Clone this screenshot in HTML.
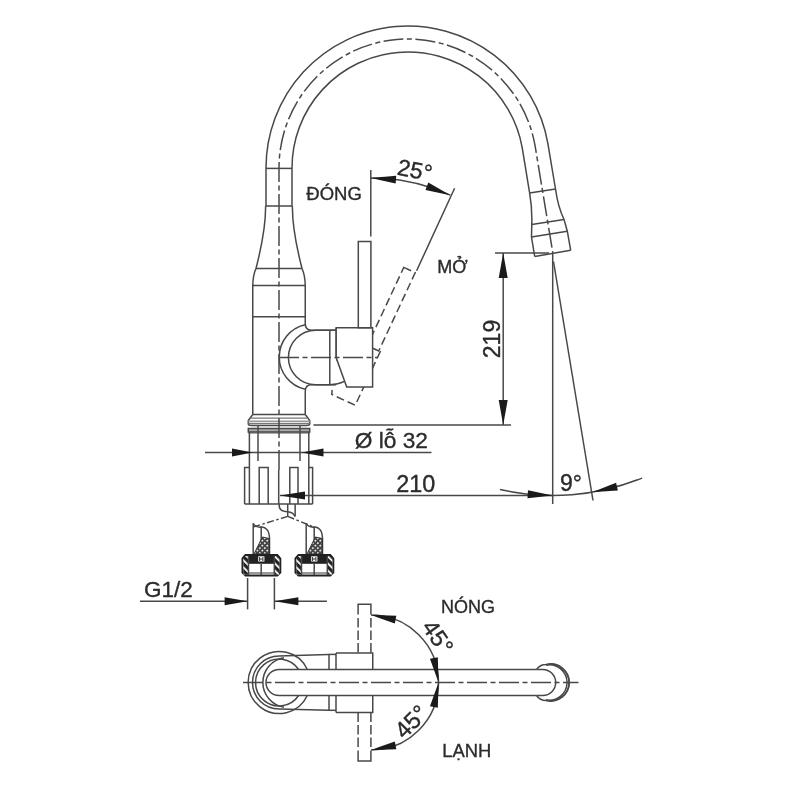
<!DOCTYPE html>
<html><head><meta charset="utf-8"><style>
html,body{margin:0;padding:0;background:#fff;}
svg{display:block;will-change:transform}

.s{fill:none;stroke:#484848;stroke-width:1.5}
.sw{fill:#fff;stroke:#484848;stroke-width:1.5}
.w{fill:#fff;stroke:none}
.sg{fill:none;stroke:#777;stroke-width:1.2}
.sg2{fill:none;stroke:#999;stroke-width:1.8}
.c{fill:none;stroke:#484848;stroke-width:1.5;stroke-dasharray:20 3.5 5 3.5}
.c2{fill:none;stroke:#484848;stroke-width:1.5;stroke-dasharray:7 2.5 2.5 2.5}
.h{fill:none;stroke:#484848;stroke-width:1.5;stroke-dasharray:8 4}
.a{fill:#1a1a1a;stroke:none}
.t{font-family:"Liberation Sans",sans-serif;fill:#2b2b2b;stroke:#2b2b2b;stroke-width:0.35}
</style></head><body>
<svg width="800" height="800" viewBox="0 0 800 800">
<defs>
<pattern id="hatch" width="5" height="5" patternUnits="userSpaceOnUse" patternTransform="rotate(-45)"><rect width="5" height="5" fill="#222"/><rect width="1.8" height="5" fill="#fff"/></pattern>
<pattern id="braid" width="3.5" height="3.5" patternUnits="userSpaceOnUse" patternTransform="rotate(45)"><rect width="3.5" height="3.5" fill="#444"/><rect width="1.6" height="1.6" fill="#fff"/></pattern>
</defs>
<g transform="rotate(25 322.6 357)">
<polygon class="h" points="358.3,241.4 370.9,241.4 370.9,327.8 358.3,327.8"/>
<polygon class="h" points="336.2,327.8 372.6,327.8 372.6,387 346.7,387 336.2,357.8"/>
</g>
<path class="w" d="M305.25,324.75 A33,33 0 0 0 305.25,389.25 Z" />
<polygon class="w" points="305.25,324 336.2,324 336.2,390 305.25,390"/>
<path class="s" d="M266,206 L266,168 A142,142 0 0 1 547.84,143.34 L555.5,189" />
<path class="s" d="M292,206 L292,168 A116,116 0 0 1 522.24,147.86 L529.6,192.9" />
<line class="s" x1="529.6" y1="192.9" x2="555.5" y2="189"/>
<path class="s" d="M529.6,192.9 Q532.3,208 531.8,224.5 L531.5,237 L534.7,256.5" />
<path class="s" d="M555.5,189 Q558,207 564,219.4 L567.3,231.2 L570.7,250.3" />
<line class="s" x1="531.8" y1="224.5" x2="564" y2="219.4"/>
<line class="s" x1="531.5" y1="237" x2="567.3" y2="231.2"/>
<line class="s" x1="534.7" y1="256.5" x2="570.7" y2="250.3"/>
<line class="s" x1="266" y1="168.4" x2="292" y2="168.4"/>
<line class="s" x1="266" y1="206" x2="292" y2="206"/>
<path class="s" d="M265.6,206 C265.8,225 262,245 256,268.5 Q253,275 252.75,285.5 L252.75,414.5" />
<path class="s" d="M292.4,206 C292.2,225 296,245 302,268.5 Q305,275 305.25,285.5 L305.25,323.5 Q305.25,330.2 311.5,330.2 L336.2,330.2" />
<path class="s" d="M336.2,384.8 L311.5,384.8 Q305.25,384.8 305.25,391.5 L305.25,414.5" />
<line class="s" x1="256" y1="268.5" x2="302" y2="268.5"/>
<line class="s" x1="252.75" y1="285.5" x2="305.25" y2="285.5"/>
<line class="s" x1="252.75" y1="316.8" x2="305.25" y2="316.8"/>
<path class="s" d="M305.25,324.75 A33,33 0 0 0 305.25,389.25" />
<path class="s" d="M336.2,330.2 L315.7,330.2 A27.3,27.3 0 0 0 315.7,384.8 L329.8,384.8 Q338,384.5 344.4,381.4" />
<line class="s" x1="329.8" y1="330.2" x2="329.8" y2="384.8"/>
<line class="s" x1="336.2" y1="327.8" x2="336.2" y2="357.8"/>
<polygon class="sw" points="336.2,327.8 372.6,327.8 372.6,387 346.7,387 336.2,357.8"/>
<polygon class="sw" points="358.3,241.4 370.9,241.4 370.9,327.8 358.3,327.8"/>
<line class="c" x1="279" y1="357.5" x2="377.6" y2="357.5"/>
<line class="s" x1="370.8" y1="170" x2="370.8" y2="236.6"/>
<line class="s" x1="454.6" y1="188.2" x2="416.6" y2="270.8"/>
<path class="s" d="M371,178 A192,192 0 0 1 450.32,195.15" />
<polygon class="a" points="371,178 395.69,183.62 396.21,175.63"/>
<polygon class="a" points="450.32,195.15 428.34,182.58 425.51,190.07"/>
<text class="t" x="396.3" y="174.6" font-size="23" text-anchor="start" transform="rotate(11 396.3 174.6)">25°</text>
<text class="t" x="306.3" y="199.5" font-size="18.5" text-anchor="start">ĐÓNG</text>
<text class="t" x="437.3" y="273" font-size="18" text-anchor="start">MỞ</text>
<line class="s" x1="252.75" y1="414.5" x2="305.25" y2="414.5"/>
<path class="s" d="M252.75,414.5 L248.3,420.5 L248.3,424 Q248.3,425.5 252,425.5 L306,425.5 Q309.7,425.5 309.7,424 L309.7,420.5 L305.25,414.5" />
<line class="sg" x1="250.5" y1="418.2" x2="307.5" y2="418.2"/>
<line class="sg2" x1="248.3" y1="421.3" x2="309.7" y2="421.3"/>
<line class="sg" x1="248.3" y1="423.6" x2="309.7" y2="423.6"/>
<rect x="248.3" y="428.5" width="61.4" height="5.5" fill="#aaa"/>
<polygon class="s" points="248.3,428.5 309.7,428.5 309.7,432 248.3,432"/>
<line class="s" x1="249.4" y1="432" x2="249.4" y2="504"/>
<line class="s" x1="308.8" y1="432" x2="308.8" y2="504"/>
<line class="s" x1="258" y1="426" x2="258" y2="461"/>
<line class="s" x1="300" y1="426" x2="300" y2="461"/>
<line class="s" x1="244.6" y1="504" x2="312.6" y2="504"/>
<polyline class="s" points="244.6,504 244.6,467.4 249.4,467.4"/>
<polyline class="s" points="259.2,504 259.2,467.4 268.2,467.4 268.2,504"/>
<polyline class="s" points="289.8,504 289.8,467.4 298,467.4 298,504"/>
<polyline class="s" points="308.8,467.4 312.6,467.4 312.6,504"/>
<path class="c" d="M279,470 L279,168 A129,129 0 0 1 535.04,145.6 L553,254" />
<line class="s" x1="278.7" y1="470" x2="278.7" y2="504"/>
<path class="s" d="M279.2,504 L279.2,506 C279.2,511 284,511.6 287.5,511.8 C291,512 294,514 295,516.6" />
<line class="s" x1="287.7" y1="504" x2="287.7" y2="516.4"/>
<line class="s" x1="295.15" y1="504" x2="295.15" y2="516.6"/>
<line class="s" x1="205" y1="452.6" x2="431.5" y2="452.6"/>
<polygon class="a" points="252.5,452.6 232,448.6 232,456.6"/>
<polygon class="a" points="301.5,452.6 323.5,456.6 323.5,448.6"/>
<text class="t" x="354.8" y="447.6" font-size="22.7" text-anchor="start">Ø lỗ 32</text>
<line class="s" x1="313.4" y1="425" x2="511" y2="425"/>
<line class="s" x1="495" y1="253" x2="549" y2="253"/>
<line class="s" x1="503.2" y1="253" x2="503.2" y2="425"/>
<polygon class="a" points="503.2,253 498.7,278 507.7,278"/>
<polygon class="a" points="503.2,425 507.7,400 498.7,400"/>
<text class="t" x="499.5" y="339" font-size="23" text-anchor="middle" transform="rotate(-90 499.5 339)">219</text>
<line class="s" x1="280" y1="495.5" x2="552.6" y2="495.5"/>
<polygon class="a" points="280,495.5 305,499.5 305,491.5"/>
<text class="t" x="396.3" y="491.8" font-size="23.4" text-anchor="start">210</text>
<line class="s" x1="552.7" y1="253" x2="552.7" y2="504"/>
<line class="s" x1="553.5" y1="261.5" x2="593" y2="500.5"/>
<path class="s" d="M500,489.58 A237.5,237.5 0 0 0 642,478.07" />
<polygon class="a" points="552.7,495.5 527.95,490.19 527.52,498.18"/>
<polygon class="a" points="592.6,492.12 617.87,490.54 616.11,482.73"/>
<text class="t" x="560" y="491" font-size="23" text-anchor="start">9°</text>
<g transform="translate(0 0)">
<path class="s" d="M253.2,555 L253.2,523.2 Q255,527 260,527.2 L261.2,527.2 L261.2,555" />
<path class="s" d="M260,527.2 Q265,526.5 268,531 Q269.5,534 269.5,538 L269.5,555" />
<polygon points="254,554 262.4,537 269.5,538.6 269.5,554" fill="url(#braid)" stroke="#333" stroke-width="1"/>
<polygon points="242.5,558.5 245.5,555 277.3,555 280.3,558.5 280.3,572.5 277.3,575.6 245.5,575.6 242.5,572.5" fill="#fff" stroke="#222" stroke-width="2"/>
<rect x="243.5" y="556" width="5" height="18.6" fill="url(#hatch)"/>
<rect x="274.3" y="556" width="5" height="18.6" fill="url(#hatch)"/>
<rect x="248.5" y="555.4" width="25.8" height="8.4" fill="#222"/>
<rect x="258.2" y="556.3" width="6.2" height="5.2" fill="#fff"/>
<path d="M259.6,557 V561 M262.9,557 V561 M259.6,559 H262.9" stroke="#333" stroke-width="1" fill="none"/>
<rect x="248.5" y="572" width="25.8" height="2.6" fill="#999"/>
<line class="s" x1="248.5" y1="556" x2="248.5" y2="575"/>
<line class="s" x1="274.3" y1="556" x2="274.3" y2="575"/>
<line class="s" x1="261.2" y1="563.8" x2="261.2" y2="575"/>
</g>
<g transform="translate(53 0)">
<path class="s" d="M253.2,555 L253.2,523.2 Q255,527 260,527.2 L261.2,527.2 L261.2,555" />
<path class="s" d="M260,527.2 Q265,526.5 268,531 Q269.5,534 269.5,538 L269.5,555" />
<polygon points="254,554 262.4,537 269.5,538.6 269.5,554" fill="url(#braid)" stroke="#333" stroke-width="1"/>
<polygon points="242.5,558.5 245.5,555 277.3,555 280.3,558.5 280.3,572.5 277.3,575.6 245.5,575.6 242.5,572.5" fill="#fff" stroke="#222" stroke-width="2"/>
<rect x="243.5" y="556" width="5" height="18.6" fill="url(#hatch)"/>
<rect x="274.3" y="556" width="5" height="18.6" fill="url(#hatch)"/>
<rect x="248.5" y="555.4" width="25.8" height="8.4" fill="#222"/>
<rect x="258.2" y="556.3" width="6.2" height="5.2" fill="#fff"/>
<path d="M259.6,557 V561 M262.9,557 V561 M259.6,559 H262.9" stroke="#333" stroke-width="1" fill="none"/>
<rect x="248.5" y="572" width="25.8" height="2.6" fill="#999"/>
<line class="s" x1="248.5" y1="556" x2="248.5" y2="575"/>
<line class="s" x1="274.3" y1="556" x2="274.3" y2="575"/>
<line class="s" x1="261.2" y1="563.8" x2="261.2" y2="575"/>
</g>
<line class="c2" x1="287.7" y1="516.4" x2="253" y2="527"/>
<line class="c2" x1="287.7" y1="516.4" x2="313.75" y2="527"/>
<line class="s" x1="247.6" y1="578" x2="247.6" y2="609.4"/>
<line class="s" x1="274.4" y1="578" x2="274.4" y2="609.4"/>
<line class="s" x1="140" y1="601.25" x2="247.6" y2="601.25"/>
<polygon class="a" points="247.6,601.25 224.6,597.25 224.6,605.25"/>
<line class="s" x1="274.4" y1="601.25" x2="326.9" y2="601.25"/>
<polygon class="a" points="274.4,601.25 298.4,605.25 298.4,597.25"/>
<text class="t" x="144" y="597" font-size="22.5" text-anchor="start">G1/2</text>
<line class="c" x1="243" y1="682.5" x2="578.5" y2="682.5"/>
<path class="s" d="M307.3,669.5 A31,31 0 1 0 307.3,695.5" />
<path class="s" d="M279,656 A26.5,26.5 0 0 0 279,709" />
<path class="s" d="M284,657.8 A25,25 0 0 0 284,707.2" />
<path class="s" d="M298.6,669.5 A23.5,23.5 0 1 0 298.6,695.5" />
<line class="s" x1="279" y1="656" x2="329" y2="654.4"/>
<line class="s" x1="279" y1="709" x2="329" y2="710.3"/>
<path class="s" d="M536.5,669.5 L279,669.5 A13,13 0 0 0 279,695.5 L536.5,695.5" />
<polyline class="s" points="329,654.4 329,669.5"/>
<polyline class="s" points="336,652.9 336,669.5"/>
<polyline class="s" points="329,695.5 329,710.3"/>
<polyline class="s" points="336,695.5 336,712.5"/>
<polyline class="s" points="336,652.9 372.75,652.9 372.75,669.5"/>
<polyline class="s" points="336,712.5 372.75,712.5 372.75,695.5"/>
<polyline class="s" points="358.1,614.5 358.1,604.3 370.9,604.3 370.9,614.5"/>
<polyline class="s" points="358.1,750.5 358.1,761 370.9,761 370.9,750.5"/>
<path class="s" style="stroke-dasharray:9.5 3" d="M358.1,618 V653 M370.9,618 V653 M358.1,712.5 V748 M370.9,712.5 V748"/>
<line class="s" x1="329" y1="654.4" x2="336" y2="654.4"/>
<line class="s" x1="329" y1="710.3" x2="336" y2="710.3"/>
<path class="s" d="M536.5,669.5 L542.7,669.5 A13,13 0 0 1 542.7,695.5 L536.5,695.5" />
<path class="s" d="M536.5,669.5 Q540,664.5 546,664.5 A18.6,18.6 0 1 1 546,700.5 Q540,700.5 536.5,695.5" />
<path class="s" d="M546,665 A18.16,18.16 0 1 1 546,700" />
<path class="s" d="M546,665 A17.8,17.8 0 1 1 546,700" />
<path class="s" d="M371,615 A67.5,67.5 0 0 1 438.5,682.5" />
<path class="s" d="M438.5,682.5 A67.5,67.5 0 0 1 371,750" />
<polygon class="a" points="371,615 394.84,623.53 396.31,615.67"/>
<polygon class="a" points="438.5,682.5 437.83,657.19 429.97,658.66"/>
<polygon class="a" points="438.5,682.5 429.97,706.34 437.83,707.81"/>
<polygon class="a" points="371,750 396.31,749.33 394.84,741.47"/>
<text class="t" x="421" y="627.1" font-size="23.5" text-anchor="start" transform="rotate(55 421 627.1)">45°</text>
<text class="t" x="404.2" y="740" font-size="23.5" text-anchor="start" transform="rotate(-45 404.2 740)">45°</text>
<text class="t" x="441" y="612.5" font-size="18" text-anchor="start">NÓNG</text>
<text class="t" x="442.3" y="757" font-size="18.4" text-anchor="start">LẠNH</text>
</svg>
</body></html>
